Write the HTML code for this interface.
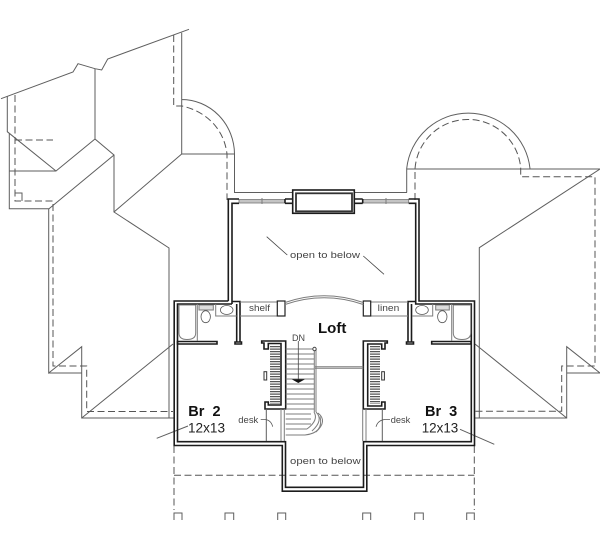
<!DOCTYPE html>
<html><head><meta charset="utf-8"><style>
html,body{margin:0;padding:0;background:#fff}
svg{display:block}
text{font-family:"Liberation Sans",sans-serif;fill:#222}
.t{fill:none;stroke:#5e5e5e;stroke-width:1}
.d{fill:none;stroke:#555;stroke-width:1;stroke-dasharray:7 3.500}
.w{fill:none;stroke:#1c1c1c;stroke-width:1.600}
.g{fill:none;stroke:#7c7c7c;stroke-width:1}
.f{fill:none;stroke:#555;stroke-width:.8}
.s{font-size:9.500px;fill:#444}
</style></head><body>
<svg width="600" height="550" viewBox="0 0 600 550" xmlns="http://www.w3.org/2000/svg">
<!-- left roof -->
<path class="t" d="M1 98.700L73 72L78 63.700L95 68.700L101.700 70L107.700 59L189 29.300"/>
<path class="t" d="M181.700 32.700V154H235M181.700 99.500A53 55 0 0 1 234.500 154V192.500H293"/>
<path class="t" d="M181.700 154L114 212L169 248V418M114 155V212M95 69V139L114 155L49 208.700H9.300V133M95 139L56 171L7.300 131.700V96M9.300 171H56"/>
<path class="t" d="M48.700 208.700V373L81.700 346.700V418H174M48.700 373H81.700M81.700 418L173 344"/>
<path class="d" d="M15 95V201H53V366H86.700V411.500H173"/>
<path class="t" d="M15 193H22V201"/>
<path class="d" d="M15 140H53"/>
<path class="d" d="M173.700 35V106H182C205 111 224 128 227 154V200"/>
<!-- right roof -->
<path class="t" d="M407 192.500H406.700V169H600L479.300 247.700V418M407 192.500H354M406.700 168.500A62 62 0 0 1 530 168.500"/>
<path class="d" d="M415 200V169A53 53 0 0 1 520.700 168V176.700H595V366H561.700V411.300H475"/>
<path class="t" d="M475 418H566.700V346.700L600 373H566.700M566.700 418L475 344"/>
<path class="t" d="M460 429.300L494.300 444.300M156.700 438.300L188 426"/>
<!-- bottom dashes -->
<path class="d" d="M174 446V510M474.300 446V510M174 475.300H474.300"/>
<path class="t" d="M174 520V513H182V520M225 520V513H233.700V520M277.700 520V513H285.700V520M362.700 520V513H370.700V520M414.700 520V513H423.300V520M466.700 520V513H474.300V520"/>
<!-- window glazing -->
<rect x="239" y="199.500" width="46" height="3.500" fill="#c4c4c4" stroke="#777" stroke-width=".8"/>
<rect x="362.700" y="199.500" width="46" height="3.500" fill="#c4c4c4" stroke="#777" stroke-width=".8"/>
<path class="g" d="M262 198V204M386 198V204"/>
<!-- outer walls -->
<path class="w" d="M228.300 301H174.200V445.500H282.300V491.200H366.800V445.500H474.500V301H419V199H408.700M239 199H228.300V301"/>
<path class="w" d="M232 304H177.500V441.700H285.500V487.300H363.500V441.700H471.300V304H415.700V203.300H408.700M239 203.300H232V304"/>
<path class="w" d="M232 301.500H240V342M236.700 304V342M235 342H241.500V344H235ZM415.700 301.500H408V342M411.500 304V342M406.500 342H413.500V344H406.500Z"/>
<path class="w" d="M177.500 341.500H217V344H177.500ZM431.700 341.500H471V344H431.700Z"/>
<!-- window box -->
<rect x="292.700" y="190" width="61.600" height="23.300" class="w"/>
<rect x="296" y="193.300" width="56" height="18" fill="none" stroke="#333" stroke-width="1.800"/>
<path class="w" d="M285 199H292.700M285 203.300H292.700M354.300 199H362.700M354.300 203.300H362.700M285 199V203.300M362.700 199V203.300"/>
<!-- shelf, linen, arc -->
<path class="g" d="M240 316H277.300M370.700 316H408M240 302H277.300M370.700 302H408"/>
<rect x="277.300" y="301" width="7.700" height="15" fill="#fff" stroke="#222" stroke-width="1.200"/>
<rect x="363.300" y="301" width="7.400" height="15" fill="#fff" stroke="#222" stroke-width="1.200"/>
<path class="g" d="M285 302.500Q324 289 363.300 302.500M285 304.500Q324 291 363.300 304.500"/>
<!-- baths -->
<path class="g" d="M179 305V333Q179 339.500 187 339.500Q195.700 339.500 195.700 333V305ZM197.300 304V341M215.700 304V316H236.700"/>
<rect x="199" y="305" width="14.300" height="5" class="g" fill="#ddd" style="fill:#ddd"/>
<ellipse cx="205.700" cy="316.700" rx="4.700" ry="6" class="f"/>
<ellipse cx="226.700" cy="310" rx="6.300" ry="4.500" class="f"/>
<path class="g" d="M453.300 305H470.700V333Q470.700 339.500 462 339.500Q453.300 339.500 453.300 333ZM451.700 304V341M432.700 304V316H412"/>
<rect x="435.700" y="305" width="13.600" height="5" class="g" style="fill:#ddd"/>
<ellipse cx="442.300" cy="316.700" rx="4.700" ry="6" class="f"/>
<ellipse cx="422" cy="310" rx="6.300" ry="4.500" class="f"/>
<!-- left closet -->
<path class="w" d="M261.700 341H285.700V409H265V402H268.300V405H281V343.500H268.300V349H264V343H261.700Z" stroke-width="1.200"/>
<path fill="none" stroke="#555" stroke-width="10" stroke-dasharray="1.300 1.200" d="M275 346V404"/>
<rect x="264" y="371.700" width="2.700" height="8.300" fill="none" stroke="#333" stroke-width="1"/>
<!-- right closet -->
<path class="w" d="M387.300 341H363.300V409H385V402H381.700V406H367.700V344H381.700V349H385V343H387.300Z" stroke-width="1.200"/>
<path fill="none" stroke="#555" stroke-width="10" stroke-dasharray="1.300 1.200" d="M375 346V404"/>
<rect x="381.700" y="371.700" width="2.700" height="8.300" fill="none" stroke="#333" stroke-width="1"/>
<!-- desks -->
<path class="t" d="M266.300 409V441M382.300 409V441"/>
<path class="g" d="M281 409V441M284.300 409V441M362.700 409V441M366 409V441"/>
<path class="f" d="M260.700 419.500H265Q271 420 272.700 426.700M390 419.500H385Q378 420 376 426.700"/>
<!-- stairs -->
<path class="g" d="M285.700 349H314M285.700 354H314M285.700 359H314M285.700 364H314M285.700 369H314M285.700 374H314M285.700 379H314M285.700 384H314M285.700 389H314M285.700 394H314M285.700 399H314M285.700 404H314M285.700 409H314M285.700 414H311M285.700 419H311M285.700 424H311M285.700 429H307"/>
<path class="g" d="M314.300 350V412M316 350V412M315 366.700H363.300M315 368.300H363.300"/>
<circle cx="314.500" cy="349" r="1.700" fill="#fff" stroke="#444"/>
<path fill="none" stroke="#444" stroke-width=".8" d="M298.300 341V380"/>
<path d="M291.700 379.300H305L298.300 383Z" fill="#111"/>
<path class="g" d="M314 412Q319 420 307 429M316 412Q324 420 312 431M318 413Q328 421 316 432M320 416.500Q324 433 305 435H285.700"/>
<!-- labels -->
<text x="318" y="333" font-size="15" font-weight="700" style="fill:#111">Loft</text>
<text x="292" y="341" style="font-size:9px;fill:#444" textLength="13" lengthAdjust="spacingAndGlyphs">DN</text>
<text x="249" y="311" class="s" textLength="21" lengthAdjust="spacingAndGlyphs">shelf</text>
<text x="377.700" y="311" class="s" textLength="21.600" lengthAdjust="spacingAndGlyphs">linen</text>
<text x="290" y="258" class="s" textLength="70" lengthAdjust="spacingAndGlyphs">open to below</text>
<text x="290" y="464" class="s" textLength="70.700" lengthAdjust="spacingAndGlyphs">open to below</text>
<text x="238.300" y="423" class="s" textLength="20" lengthAdjust="spacingAndGlyphs">desk</text>
<text x="390.700" y="423" class="s" textLength="19.500" lengthAdjust="spacingAndGlyphs">desk</text>
<text x="188.300" y="416" font-size="14.500" font-weight="700" word-spacing="4" style="fill:#111">Br 2</text>
<text x="425" y="416" font-size="14.500" font-weight="700" word-spacing="4" style="fill:#111">Br 3</text>
<text x="188" y="432.300" font-size="14" textLength="37" lengthAdjust="spacingAndGlyphs">12x13</text>
<text x="421.700" y="432.300" font-size="14" textLength="36.600" lengthAdjust="spacingAndGlyphs">12x13</text>
<!-- open-to-below leaders -->
<path d="M266.700 236.700L287.300 255M363.300 256L384 274.300" fill="none" stroke="#444" stroke-width=".8"/>
</svg>
</body></html>
